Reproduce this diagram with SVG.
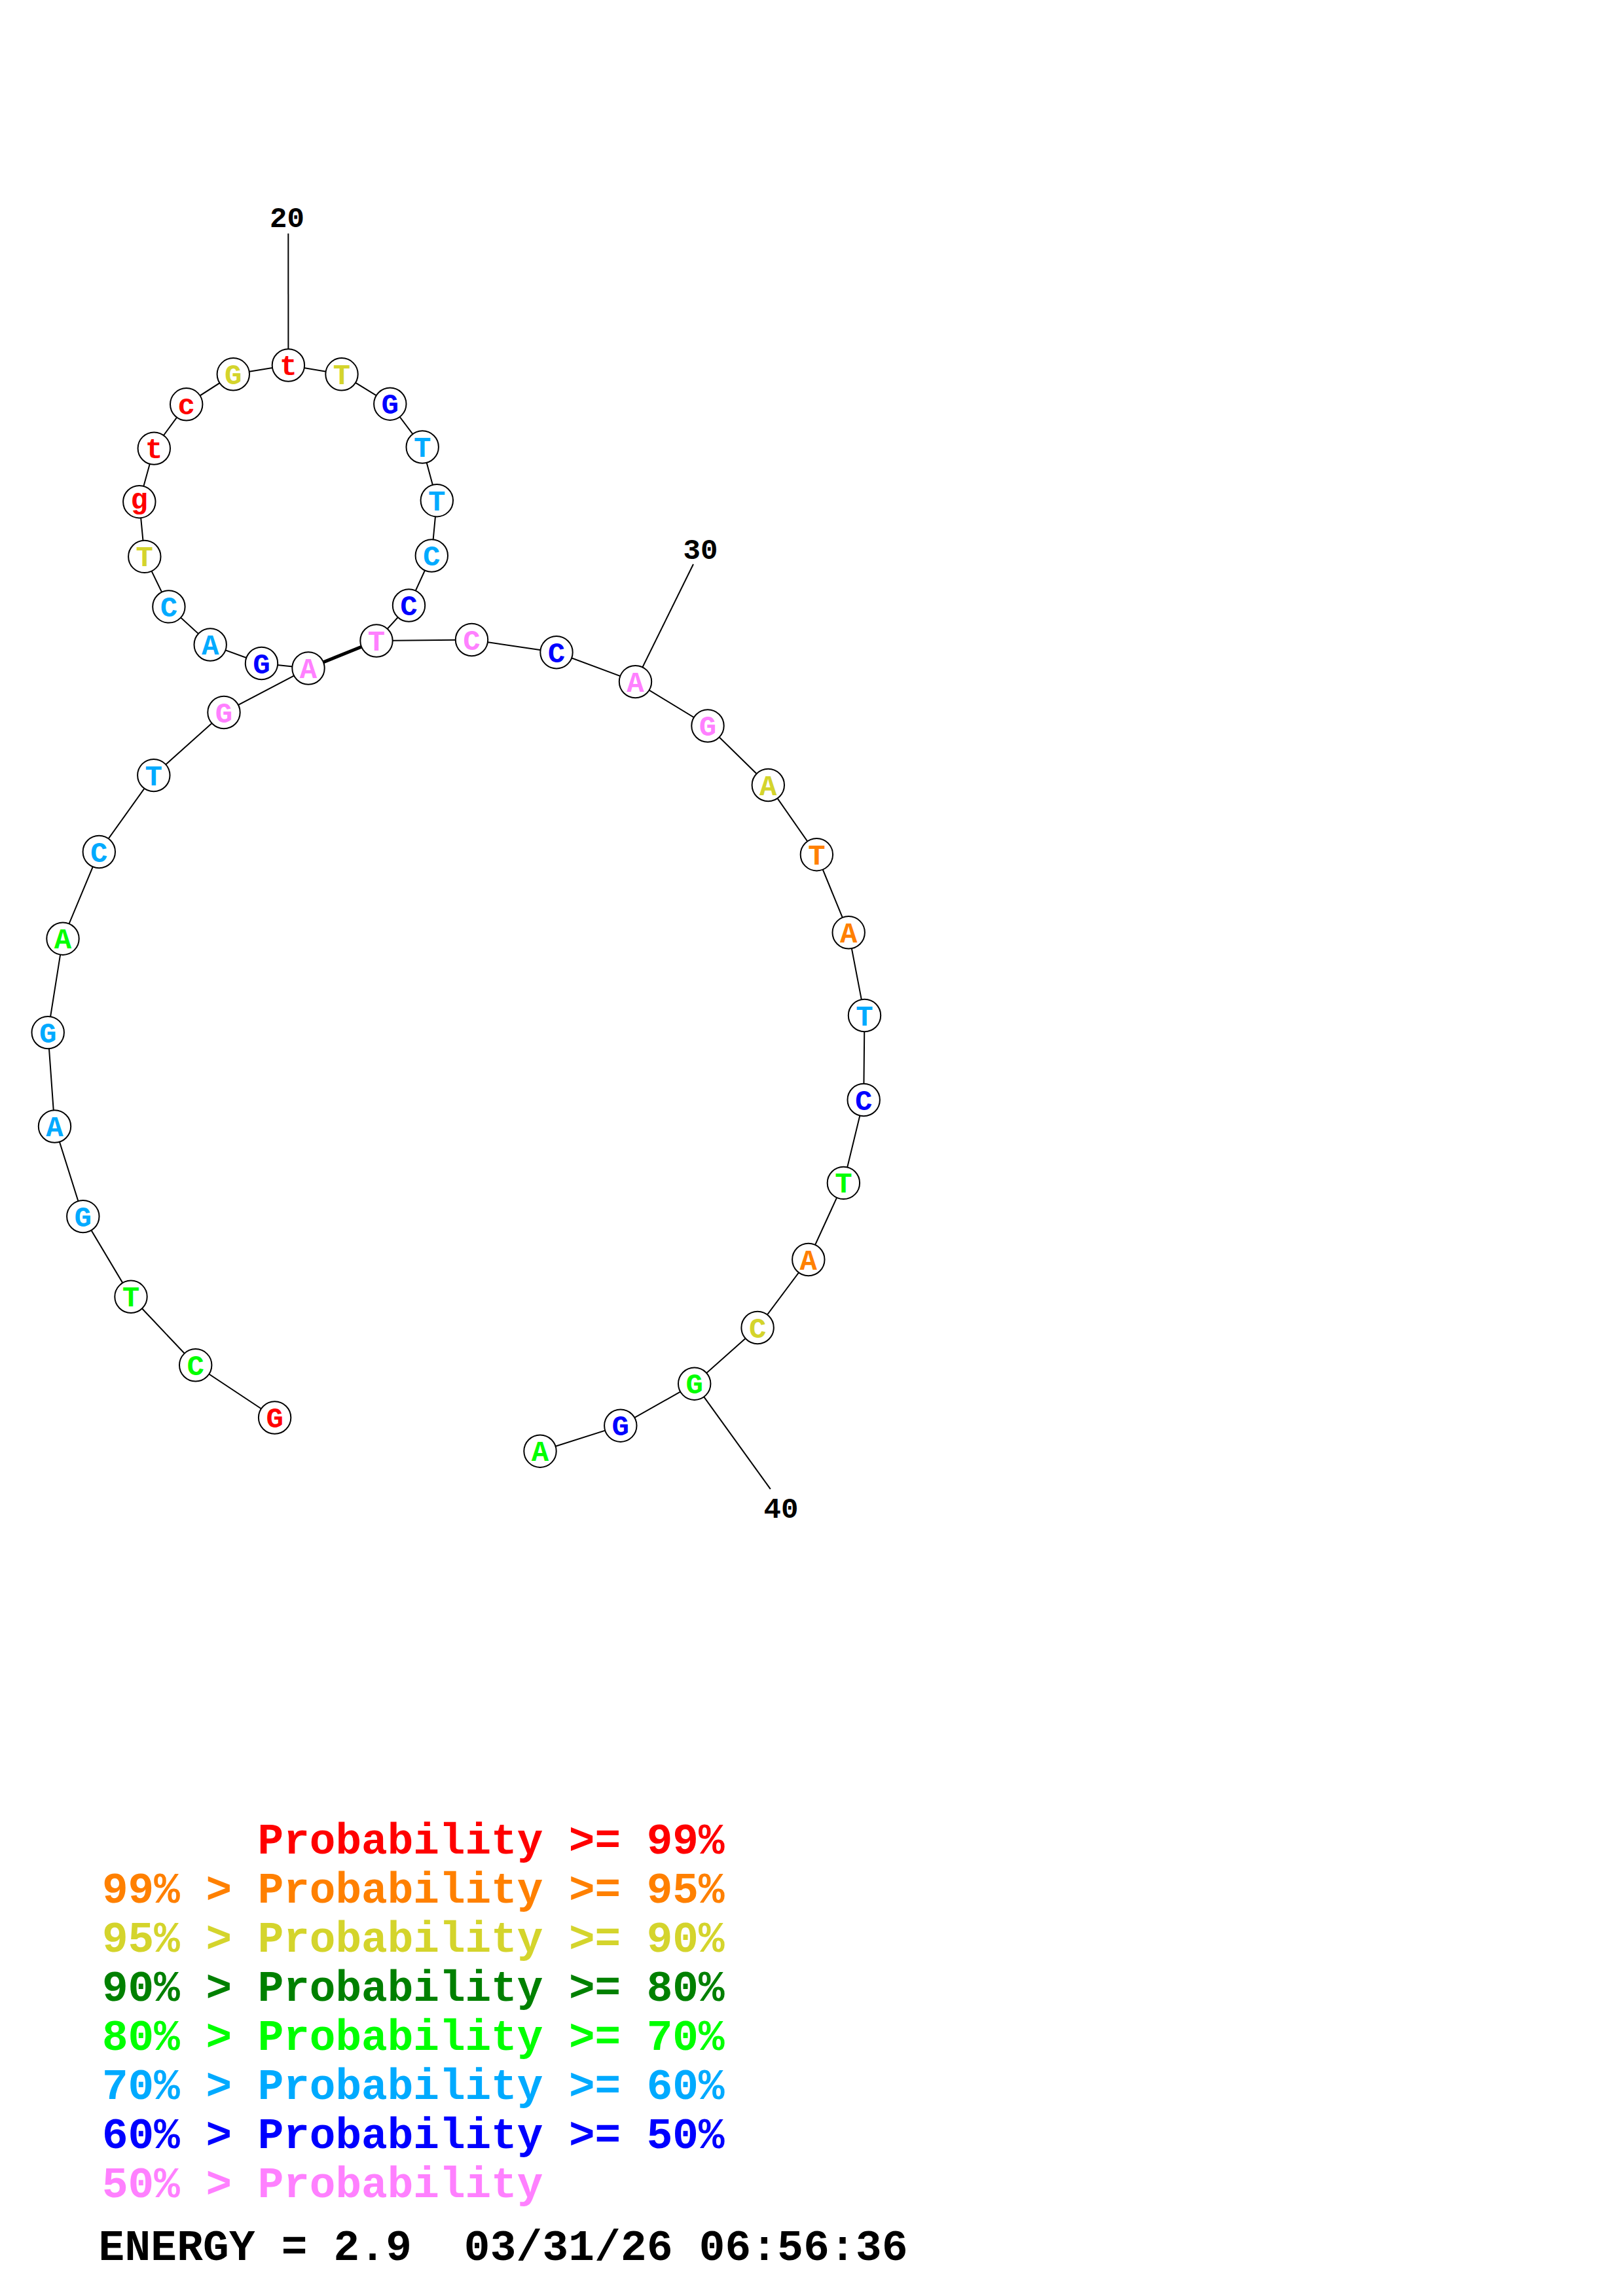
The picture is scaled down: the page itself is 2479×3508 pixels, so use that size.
<svg xmlns="http://www.w3.org/2000/svg" width="2479" height="3508" viewBox="0 0 2479 3508">
<style>
.bb{stroke:#000;stroke-width:2;fill:none}
.pair{stroke:#000;stroke-width:5;fill:none}
.tick{stroke:#000;stroke-width:2;fill:none}
.nd circle{fill:#fff;stroke:#000;stroke-width:2}
.nd text{font-family:"Liberation Mono","DejaVu Sans Mono",monospace;font-weight:bold;font-size:44px;text-anchor:middle}
.num{font-family:"Liberation Mono","DejaVu Sans Mono",monospace;font-weight:bold;font-size:44px;text-anchor:middle;fill:#000}
.lg{font-family:"Liberation Mono","DejaVu Sans Mono",monospace;font-weight:bold;font-size:66px}
.r{fill:#FF0000}.o{fill:#FF8000}.y{fill:#D4D42C}.dg{fill:#008000}.g{fill:#00FF00}.c{fill:#00AAFF}.b{fill:#0000FF}.p{fill:#FF80FF}.k{fill:#000}
</style>
<rect width="2479" height="3508" fill="#fff"/>
<g id="connectors">
<polyline class="bb" points="419.6,2166 298.7,2085.8 200,1981.3 126.8,1858.6 83.5,1721 73.2,1577.6 96,1434.2 151.3,1301.5 234.8,1184.6 342,1088.5 471,1021 399.5,1013.5 321.2,985 257.9,926.9 220.8,850.4 212.8,766.7 235.3,685.1 284.7,617.8 356.3,571.8 440.4,558 522,571.8 595.8,617.2 645.2,683 667.3,764.7 659.3,849 624.5,925 575,979 720.5,977.5 850,996.7 970.5,1041.6 1081,1109 1173.3,1199.5 1247.4,1305.7 1296.2,1424.8 1320.5,1551.5 1319.2,1680.5 1288.4,1807.4 1234.8,1924.5 1157.1,2028.5 1060.7,2114.2 947.8,2178.2 825,2217.2"/>
<line class="pair" x1="471" y1="1021" x2="575" y2="979"/>
<line class="tick" x1="440.4" y1="558" x2="440.3" y2="356.7"/>
<line class="tick" x1="970.5" y1="1041.6" x2="1059" y2="862"/>
<line class="tick" x1="1060.7" y1="2114.2" x2="1176.8" y2="2275.2"/>
</g>
<g id="numbers">
<text class="num" x="438.5" y="346.5">20</text>
<text class="num" x="1070" y="854">30</text>
<text class="num" x="1193" y="2318.5">40</text>
</g>
<g id="n1" class="nd"><circle cx="419.6" cy="2166" r="24.7"/><text class="r" x="419.6" y="2181">G</text></g>
<g id="n2" class="nd"><circle cx="298.7" cy="2085.8" r="24.7"/><text class="g" x="298.7" y="2100.8">C</text></g>
<g id="n3" class="nd"><circle cx="200" cy="1981.3" r="24.7"/><text class="g" x="200" y="1996.3">T</text></g>
<g id="n4" class="nd"><circle cx="126.8" cy="1858.6" r="24.7"/><text class="c" x="126.8" y="1873.6">G</text></g>
<g id="n5" class="nd"><circle cx="83.5" cy="1721" r="24.7"/><text class="c" x="83.5" y="1736">A</text></g>
<g id="n6" class="nd"><circle cx="73.2" cy="1577.6" r="24.7"/><text class="c" x="73.2" y="1592.6">G</text></g>
<g id="n7" class="nd"><circle cx="96" cy="1434.2" r="24.7"/><text class="g" x="96" y="1449.2">A</text></g>
<g id="n8" class="nd"><circle cx="151.3" cy="1301.5" r="24.7"/><text class="c" x="151.3" y="1316.5">C</text></g>
<g id="n9" class="nd"><circle cx="234.8" cy="1184.6" r="24.7"/><text class="c" x="234.8" y="1199.6">T</text></g>
<g id="n10" class="nd"><circle cx="342" cy="1088.5" r="24.7"/><text class="p" x="342" y="1103.5">G</text></g>
<g id="n11" class="nd"><circle cx="471" cy="1021" r="24.7"/><text class="p" x="471" y="1036">A</text></g>
<g id="n12" class="nd"><circle cx="399.5" cy="1013.5" r="24.7"/><text class="b" x="399.5" y="1028.5">G</text></g>
<g id="n13" class="nd"><circle cx="321.2" cy="985" r="24.7"/><text class="c" x="321.2" y="1000">A</text></g>
<g id="n14" class="nd"><circle cx="257.9" cy="926.9" r="24.7"/><text class="c" x="257.9" y="941.9">C</text></g>
<g id="n15" class="nd"><circle cx="220.8" cy="850.4" r="24.7"/><text class="y" x="220.8" y="865.4">T</text></g>
<g id="n16" class="nd"><circle cx="212.8" cy="766.7" r="24.7"/><text class="r" x="212.8" y="776.5">g</text></g>
<g id="n17" class="nd"><circle cx="235.3" cy="685.1" r="24.7"/><text class="r" x="235.3" y="700.1">t</text></g>
<g id="n18" class="nd"><circle cx="284.7" cy="617.8" r="24.7"/><text class="r" x="284.7" y="632.8">c</text></g>
<g id="n19" class="nd"><circle cx="356.3" cy="571.8" r="24.7"/><text class="y" x="356.3" y="586.8">G</text></g>
<g id="n20" class="nd"><circle cx="440.4" cy="558" r="24.7"/><text class="r" x="440.4" y="573">t</text></g>
<g id="n21" class="nd"><circle cx="522" cy="571.8" r="24.7"/><text class="y" x="522" y="586.8">T</text></g>
<g id="n22" class="nd"><circle cx="595.8" cy="617.2" r="24.7"/><text class="b" x="595.8" y="632.2">G</text></g>
<g id="n23" class="nd"><circle cx="645.2" cy="683" r="24.7"/><text class="c" x="645.2" y="698">T</text></g>
<g id="n24" class="nd"><circle cx="667.3" cy="764.7" r="24.7"/><text class="c" x="667.3" y="779.7">T</text></g>
<g id="n25" class="nd"><circle cx="659.3" cy="849" r="24.7"/><text class="c" x="659.3" y="864">C</text></g>
<g id="n26" class="nd"><circle cx="624.5" cy="925" r="24.7"/><text class="b" x="624.5" y="940">C</text></g>
<g id="n27" class="nd"><circle cx="575" cy="979" r="24.7"/><text class="p" x="575" y="994">T</text></g>
<g id="n28" class="nd"><circle cx="720.5" cy="977.5" r="24.7"/><text class="p" x="720.5" y="992.5">C</text></g>
<g id="n29" class="nd"><circle cx="850" cy="996.7" r="24.7"/><text class="b" x="850" y="1011.7">C</text></g>
<g id="n30" class="nd"><circle cx="970.5" cy="1041.6" r="24.7"/><text class="p" x="970.5" y="1056.6">A</text></g>
<g id="n31" class="nd"><circle cx="1081" cy="1109" r="24.7"/><text class="p" x="1081" y="1124">G</text></g>
<g id="n32" class="nd"><circle cx="1173.3" cy="1199.5" r="24.7"/><text class="y" x="1173.3" y="1214.5">A</text></g>
<g id="n33" class="nd"><circle cx="1247.4" cy="1305.7" r="24.7"/><text class="o" x="1247.4" y="1320.7">T</text></g>
<g id="n34" class="nd"><circle cx="1296.2" cy="1424.8" r="24.7"/><text class="o" x="1296.2" y="1439.8">A</text></g>
<g id="n35" class="nd"><circle cx="1320.5" cy="1551.5" r="24.7"/><text class="c" x="1320.5" y="1566.5">T</text></g>
<g id="n36" class="nd"><circle cx="1319.2" cy="1680.5" r="24.7"/><text class="b" x="1319.2" y="1695.5">C</text></g>
<g id="n37" class="nd"><circle cx="1288.4" cy="1807.4" r="24.7"/><text class="g" x="1288.4" y="1822.4">T</text></g>
<g id="n38" class="nd"><circle cx="1234.8" cy="1924.5" r="24.7"/><text class="o" x="1234.8" y="1939.5">A</text></g>
<g id="n39" class="nd"><circle cx="1157.1" cy="2028.5" r="24.7"/><text class="y" x="1157.1" y="2043.5">C</text></g>
<g id="n40" class="nd"><circle cx="1060.7" cy="2114.2" r="24.7"/><text class="g" x="1060.7" y="2129.2">G</text></g>
<g id="n41" class="nd"><circle cx="947.8" cy="2178.2" r="24.7"/><text class="b" x="947.8" y="2193.2">G</text></g>
<g id="n42" class="nd"><circle cx="825" cy="2217.2" r="24.7"/><text class="g" x="825" y="2232.2">A</text></g>
<g id="legend">
<text class="lg r" x="393.6" y="2832">Probability &gt;= 99%</text>
<text class="lg o" x="156" y="2907">99% &gt; Probability &gt;= 95%</text>
<text class="lg y" x="156" y="2982">95% &gt; Probability &gt;= 90%</text>
<text class="lg dg" x="156" y="3057">90% &gt; Probability &gt;= 80%</text>
<text class="lg g" x="156" y="3132">80% &gt; Probability &gt;= 70%</text>
<text class="lg c" x="156" y="3207">70% &gt; Probability &gt;= 60%</text>
<text class="lg b" x="156" y="3282">60% &gt; Probability &gt;= 50%</text>
<text class="lg p" x="156" y="3357">50% &gt; Probability</text>
<text class="lg k" x="150.5" y="3452.5" xml:space="preserve" textLength="1236" lengthAdjust="spacing">ENERGY = 2.9  03/31/26 06:56:36</text>
</g>
</svg>
